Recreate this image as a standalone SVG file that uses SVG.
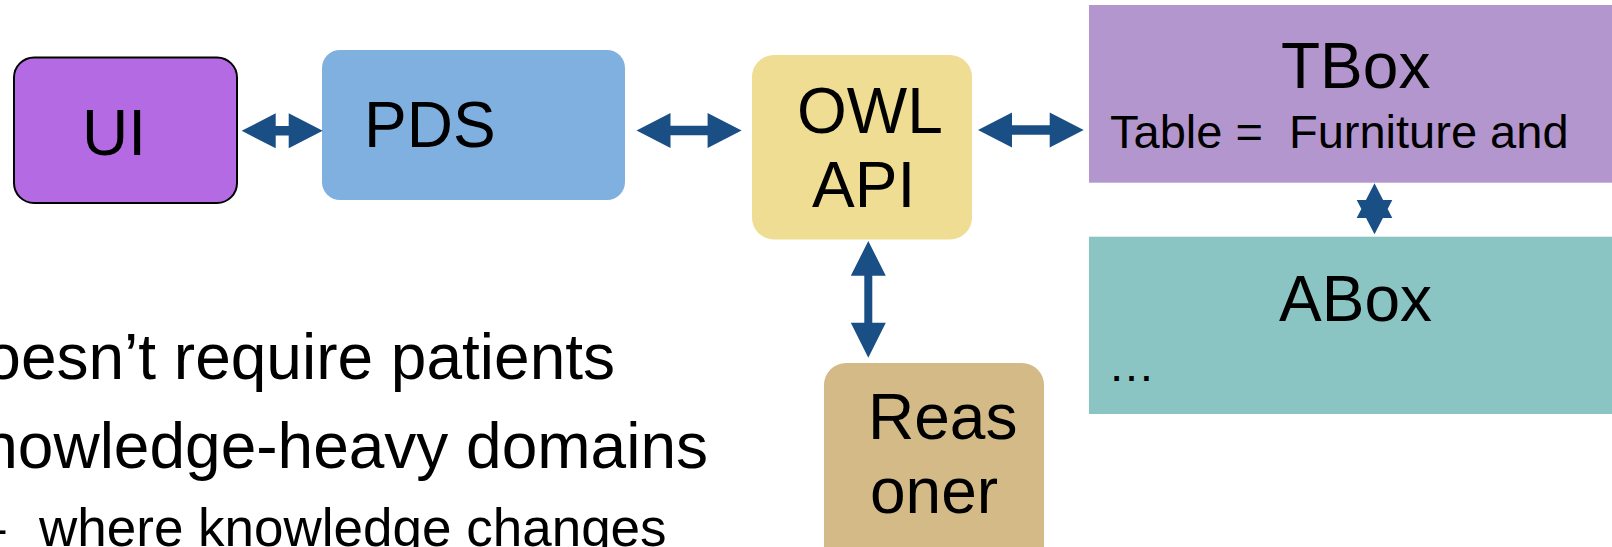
<svg xmlns="http://www.w3.org/2000/svg" width="1612" height="547" viewBox="0 0 1612 547">
<style>
text{font-family:"Liberation Sans",Arial,sans-serif;fill:#000;white-space:pre}
.big{font-size:64px}
.mid{font-size:47px}
.arrow{fill:#1A4F86;stroke:none}
</style>
<rect width="1612" height="547" fill="#fff"/>
<g id="node-ui">
<rect x="14" y="57.5" width="223" height="145.5" rx="20" ry="20" fill="#B36AE2" stroke="#000" stroke-width="2"/>
<text class="big" x="82" y="155">UI</text>
</g>
<g id="node-pds">
<rect x="322" y="50" width="303" height="150" rx="18" ry="18" fill="#7FB0DF"/>
<text class="big" x="364" y="147">PDS</text>
</g>
<g id="node-owlapi">
<rect x="752" y="55" width="220" height="184.5" rx="22" ry="22" fill="#EEDD92"/>
<text class="big" x="797" y="133">OWL</text>
<text class="big" x="812" y="207">API</text>
</g>
<g id="node-tbox">
<rect x="1089" y="5" width="530" height="177.7" fill="#B496CF"/>
<text class="big" x="1281" y="88">TBox</text>
<text class="mid" x="1110" y="148">Table =  Furniture and</text>
</g>
<g id="node-abox">
<rect x="1089" y="236.7" width="530" height="177.3" fill="#8AC4C3"/>
<text class="big" x="1279" y="321">ABox</text>
<text class="mid" x="1108" y="381">…</text>
</g>
<g id="node-reasoner">
<rect x="824" y="363" width="220" height="220" rx="22" ry="22" fill="#D3BA86"/>
<text class="big" x="868" y="439">Reas</text>
<text class="big" x="870" y="513">oner</text>
</g>
<g id="bullets">
<text class="big" x="615" y="379" text-anchor="end">Doesn’t require patients</text>
<text class="big" x="708" y="468" text-anchor="end">Knowledge-heavy domains</text>
<text x="-24" y="546" style="font-size:53px">–</text>
<text x="39" y="546" style="font-size:53px">where knowledge changes</text>
</g>
<g id="connectors">
<path class="arrow" d="M241.7,130.8 L275.7,113.3 L275.7,126 L288.7,126 L288.7,113.3 L322.7,130.8 L288.7,148.3 L288.7,135.6 L275.7,135.6 L275.7,148.3 Z"/>
<path class="arrow" d="M636.5,130.5 L670.5,113 L670.5,125.7 L707.6,125.7 L707.6,113 L741.6,130.5 L707.6,148 L707.6,135.3 L670.5,135.3 L670.5,148 Z"/>
<path class="arrow" d="M978,130 L1012,112.5 L1012,125.2 L1049.7,125.2 L1049.7,112.5 L1083.7,130 L1049.7,147.5 L1049.7,134.8 L1012,134.8 L1012,147.5 Z"/>
<path class="arrow" d="M868.3,241 L885.8,275.7 L872.3,275.7 L872.3,322.7 L885.8,322.7 L868.3,357.7 L850.8,322.7 L864.3,322.7 L864.3,275.7 L850.8,275.7 Z"/>
<path class="arrow" d="M1374.5,183.3 L1392.3,218 L1356.7,218 Z M1356.7,200 L1392.3,200 L1374.5,234.3 Z"/>
</g>
</svg>
